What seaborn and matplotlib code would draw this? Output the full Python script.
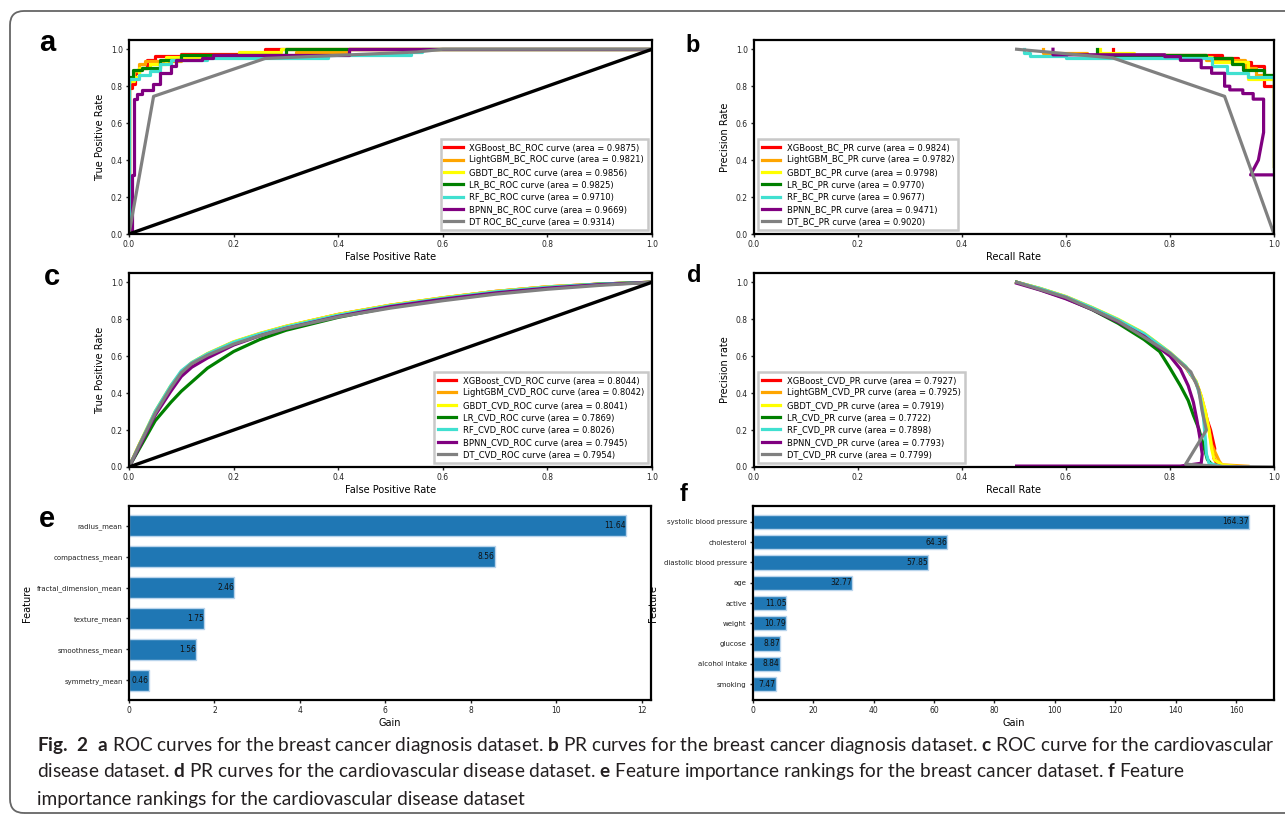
import matplotlib
matplotlib.use('Agg')
import matplotlib.pyplot as plt
import seaborn as sns
from matplotlib.patches import FancyBboxPatch
from matplotlib.transforms import IdentityTransform

# model order and colours used in every curve panel
models = ['XGBoost', 'LightGBM', 'GBDT', 'LR', 'RF', 'BPNN', 'DT']
colors = ['red', 'orange', 'yellow', 'green', 'turquoise', 'purple', 'gray']
chance_line = [0.0, 1.0]

# panel a: ROC, breast cancer
auc_a = [0.9875, 0.9821, 0.9856, 0.9825, 0.9710, 0.9669, 0.9314]
fpr_a = [
    [0, 0, 0.006, 0.006, 0.012, 0.012, 0.02, 0.02, 0.035, 0.035, 0.05, 0.05, 0.1, 0.1, 0.26, 0.26, 1.0],
    [0, 0, 0.01, 0.01, 0.02, 0.02, 0.03, 0.03, 0.1, 0.1, 0.32, 0.32, 0.42, 0.42, 1.0],
    [0, 0, 0.01, 0.01, 0.02, 0.02, 0.04, 0.04, 0.07, 0.07, 0.21, 0.21, 0.29, 0.29, 1.0],
    [0, 0, 0.008, 0.008, 0.025, 0.025, 0.06, 0.06, 0.1, 0.1, 0.3, 0.3, 1.0],
    [0, 0, 0.02, 0.02, 0.04, 0.04, 0.06, 0.06, 0.08, 0.08, 0.15, 0.15, 0.38, 0.38, 0.54, 0.54, 0.56, 0.56, 1.0],
    [0, 0.005, 0.005, 0.01, 0.01, 0.015, 0.015, 0.025, 0.025, 0.045, 0.045, 0.06, 0.06, 0.08, 0.08,
     0.09, 0.09, 0.14, 0.14, 0.16, 0.16, 0.42, 0.42, 1.0],
    [0, 0.047, 0.26, 0.55, 0.6, 1.0],
]
tpr_a = [
    [0, 0.79, 0.79, 0.81, 0.81, 0.87, 0.87, 0.9, 0.9, 0.94, 0.94, 0.965, 0.965, 0.975, 0.975, 1.0, 1.0],
    [0, 0.84, 0.84, 0.88, 0.88, 0.92, 0.92, 0.935, 0.935, 0.97, 0.97, 0.985, 0.985, 1.0, 1.0],
    [0, 0.83, 0.83, 0.85, 0.85, 0.9, 0.9, 0.92, 0.92, 0.96, 0.96, 0.985, 0.985, 1.0, 1.0],
    [0, 0.85, 0.85, 0.89, 0.89, 0.9, 0.9, 0.94, 0.94, 0.97, 0.97, 1.0, 1.0],
    [0, 0.84, 0.84, 0.86, 0.86, 0.88, 0.88, 0.92, 0.92, 0.94, 0.94, 0.955, 0.955, 0.97, 0.97, 0.985, 0.985, 1.0, 1.0],
    [0, 0, 0.32, 0.32, 0.73, 0.73, 0.76, 0.76, 0.78, 0.78, 0.81, 0.81, 0.87, 0.87, 0.91,
     0.91, 0.94, 0.94, 0.955, 0.955, 0.97, 0.97, 1.0, 1.0],
    [0, 0.745, 0.95, 0.985, 1.0, 1.0],
]

# panel b: PR, breast cancer
auc_b = [0.9824, 0.9782, 0.9798, 0.9770, 0.9677, 0.9471, 0.9020]
rec_b = [
    [0.69, 0.69, 0.9, 0.9, 0.93, 0.93, 0.955, 0.955, 0.98, 0.98, 1.0, 1.0],
    [0.555, 0.555, 0.64, 0.64, 0.87, 0.87, 0.945, 0.945, 0.965, 0.965, 1.0, 1.0],
    [0.665, 0.665, 0.73, 0.73, 0.79, 0.79, 0.88, 0.88, 0.95, 0.95, 1.0, 1.0],
    [0.66, 0.66, 0.87, 0.87, 0.92, 0.92, 0.94, 0.94, 0.98, 0.98, 1.0, 1.0],
    [0.52, 0.52, 0.53, 0.53, 0.6, 0.6, 0.88, 0.88, 0.91, 0.91, 0.95, 0.95, 1.0, 1.0],
    [0.575, 0.575, 0.79, 0.79, 0.82, 0.82, 0.86, 0.86, 0.88, 0.88, 0.905, 0.905, 0.915, 0.915,
     0.94, 0.94, 0.96, 0.96, 0.98, 0.98, 0.97, 0.955, 1.0],
    [0.505, 0.69, 0.905, 1.0],
]
prec_b = [
    [1.0, 0.97, 0.97, 0.955, 0.955, 0.93, 0.93, 0.91, 0.91, 0.8, 0.8, 0.37],
    [1.0, 0.98, 0.98, 0.97, 0.97, 0.94, 0.94, 0.9, 0.9, 0.86, 0.86, 0.37],
    [1.0, 0.98, 0.98, 0.97, 0.97, 0.96, 0.96, 0.93, 0.93, 0.84, 0.84, 0.37],
    [1.0, 0.97, 0.97, 0.95, 0.95, 0.92, 0.92, 0.89, 0.89, 0.86, 0.86, 0.34],
    [1.0, 0.98, 0.98, 0.965, 0.965, 0.955, 0.955, 0.91, 0.91, 0.87, 0.87, 0.85, 0.85, 0.37],
    [1.0, 0.97, 0.97, 0.96, 0.96, 0.94, 0.94, 0.9, 0.9, 0.87, 0.87, 0.8, 0.8, 0.78,
     0.78, 0.76, 0.76, 0.73, 0.73, 0.55, 0.4, 0.32, 0.32],
    [1.0, 0.953, 0.745, 0.0],
]

# panel c: ROC, cardiovascular disease (shared FPR grid)
auc_c = [0.8044, 0.8042, 0.8041, 0.7869, 0.8026, 0.7945, 0.7954]
fpr_c = [0, 0.02, 0.05, 0.08, 0.1, 0.12, 0.15, 0.2, 0.25, 0.3, 0.4, 0.5, 0.6, 0.7, 0.8, 0.9, 1.0]
tpr_c = [
    [0, 0.12, 0.29, 0.43, 0.51, 0.56, 0.61, 0.675, 0.72, 0.76, 0.825, 0.875, 0.915, 0.95, 0.975, 0.99, 1.0],
    [0, 0.12, 0.295, 0.435, 0.512, 0.562, 0.612, 0.676, 0.722, 0.761, 0.826, 0.876, 0.916, 0.95, 0.975, 0.99, 1.0],
    [0, 0.125, 0.3, 0.44, 0.515, 0.565, 0.614, 0.678, 0.723, 0.762, 0.826, 0.876, 0.916, 0.95, 0.975, 0.99, 1.0],
    [0, 0.1, 0.25, 0.35, 0.41, 0.46, 0.535, 0.625, 0.69, 0.74, 0.81, 0.865, 0.905, 0.94, 0.97, 0.99, 1.0],
    [0, 0.12, 0.3, 0.44, 0.52, 0.565, 0.612, 0.675, 0.72, 0.758, 0.822, 0.873, 0.913, 0.948, 0.973, 0.99, 1.0],
    [0, 0.11, 0.28, 0.41, 0.49, 0.54, 0.59, 0.66, 0.71, 0.75, 0.815, 0.868, 0.908, 0.942, 0.968, 0.987, 1.0],
    [0, 0.12, 0.29, 0.43, 0.51, 0.56, 0.605, 0.665, 0.71, 0.75, 0.812, 0.86, 0.9, 0.935, 0.962, 0.983, 1.0],
]

# panel d: PR, cardiovascular disease
auc_d = [0.7927, 0.7925, 0.7919, 0.7722, 0.7898, 0.7793, 0.7799]
rec_d = [
    [0.505, 0.55, 0.6, 0.65, 0.7, 0.75, 0.8, 0.83, 0.85, 0.86, 0.865, 0.872, 0.878, 0.882, 0.886, 0.884, 0.89, 0.9, 0.92],
    [0.505, 0.55, 0.6, 0.65, 0.7, 0.75, 0.8, 0.83, 0.85, 0.86, 0.868, 0.875, 0.88, 0.89, 0.895, 0.9, 0.95],
    [0.505, 0.55, 0.6, 0.65, 0.7, 0.75, 0.8, 0.83, 0.85, 0.86, 0.868, 0.875, 0.88, 0.885, 0.9, 0.93],
    [0.505, 0.55, 0.6, 0.65, 0.7, 0.75, 0.78, 0.8, 0.82, 0.835, 0.845, 0.855, 0.862, 0.868, 0.872, 0.88, 0.9],
    [0.505, 0.55, 0.6, 0.65, 0.7, 0.75, 0.8, 0.83, 0.85, 0.858, 0.864, 0.868, 0.87, 0.875, 0.9],
    [0.505, 0.55, 0.6, 0.65, 0.7, 0.75, 0.8, 0.82, 0.835, 0.845, 0.852, 0.858, 0.862, 0.86, 0.82, 0.505],
    [0.505, 0.6, 0.7, 0.8, 0.84, 0.855, 0.862, 0.87, 0.83, 0.9, 1.0],
]
prec_d = [
    [1.0, 0.965, 0.92, 0.86, 0.795, 0.72, 0.615, 0.54, 0.46, 0.38, 0.32, 0.25, 0.2, 0.15, 0.1, 0.05, 0.02, 0.01, 0.0],
    [1.0, 0.966, 0.921, 0.862, 0.797, 0.722, 0.617, 0.542, 0.46, 0.38, 0.3, 0.2, 0.12, 0.06, 0.03, 0.012, 0.004],
    [1.0, 0.967, 0.923, 0.864, 0.8, 0.725, 0.62, 0.545, 0.465, 0.385, 0.3, 0.2, 0.1, 0.04, 0.012, 0.002],
    [1.0, 0.96, 0.913, 0.852, 0.778, 0.69, 0.625, 0.535, 0.44, 0.36, 0.28, 0.21, 0.14, 0.08, 0.04, 0.015, 0.0],
    [1.0, 0.966, 0.921, 0.862, 0.797, 0.722, 0.618, 0.545, 0.46, 0.38, 0.28, 0.15, 0.07, 0.02, 0.002],
    [0.995, 0.958, 0.91, 0.853, 0.785, 0.708, 0.6, 0.53, 0.44, 0.35, 0.25, 0.15, 0.07, 0.02, 0.005, 0.005],
    [1.0, 0.918, 0.79, 0.615, 0.515, 0.42, 0.3, 0.2, 0.015, 0.003, 0.0],
]

# panel e / f: feature importance (gain)
features_bc = ['radius_mean', 'compactness_mean', 'fractal_dimension_mean',
               'texture_mean', 'smoothness_mean', 'symmetry_mean']
gain_bc = [11.64, 8.56, 2.46, 1.75, 1.56, 0.46]
features_cvd = ['systolic blood pressure', 'cholesterol', 'diastolic blood pressure', 'age',
                'active', 'weight', 'glucose', 'alcohol intake', 'smoking']
gain_cvd = [164.37, 64.36, 57.85, 32.77, 11.05, 10.79, 8.87, 8.84, 7.47]

caption_lines = [
    r'$\mathbf{Fig.\ 2}$  $\mathbf{a}$ ROC curves for the breast cancer diagnosis dataset. $\mathbf{b}$ PR curves for the breast cancer diagnosis dataset. $\mathbf{c}$ ROC curve for the cardiovascular',
    r'disease dataset. $\mathbf{d}$ PR curves for the cardiovascular disease dataset. $\mathbf{e}$ Feature importance rankings for the breast cancer dataset. $\mathbf{f}$ Feature',
    'importance rankings for the cardiovascular disease dataset',
]

plt.rcParams['font.family'] = ['DejaVu Sans']
plt.rcParams['mathtext.fontset'] = 'custom'
plt.rcParams['mathtext.rm'] = 'Lato'
plt.rcParams['mathtext.bf'] = 'Lato:bold'

W, H = 1285, 816
fig = plt.figure(figsize=(W / 100, H / 100), dpi=100)


def px_axes(left, top, right, bottom):
    return fig.add_axes([left / W, 1 - bottom / H, (right - left) / W, (bottom - top) / H])


def style(ax):
    for sp in ax.spines.values():
        sp.set_linewidth(1.6)
        sp.set_color('black')
    ax.tick_params(labelsize=5.5, length=2.5, width=1, pad=2, colors='#222222')


def curve_panel(ax, xs, ys, aucs, kind, ylabel, xlabel, loc, diag=False):
    for i, m in enumerate(models):
        sns.lineplot(x=xs[i] if isinstance(xs[0], list) else xs, y=ys[i], sort=False,
                     estimator=None, color=colors[i], lw=2.3, ax=ax,
                     label=f'{m}_{kind} curve (area = {aucs[i]:.4f})')
    if diag:
        sns.lineplot(x=chance_line, y=chance_line, color='black', lw=2.4, ax=ax,
                     estimator=None, sort=False)
    ax.set_xlim(0, 1)
    ax.set_ylim(0, 1.05)
    ax.set_xticks([0, 0.2, 0.4, 0.6, 0.8, 1.0])
    ax.set_yticks([0, 0.2, 0.4, 0.6, 0.8, 1.0])
    ax.set_xlabel(xlabel, fontsize=7, labelpad=2)
    ax.set_ylabel(ylabel, fontsize=7, labelpad=4)
    style(ax)
    leg = ax.legend(loc=loc, fontsize=6, fancybox=False, edgecolor='#c8c8c8', framealpha=1,
                    handlelength=2.2, labelspacing=0.4, borderpad=0.45)
    leg.get_frame().set_linewidth(1.8)
    return leg


ax_a = px_axes(129, 40, 652, 234)
leg = curve_panel(ax_a, fpr_a, tpr_a, auc_a, 'BC_ROC', 'True Positive Rate', 'False Positive Rate',
                  'lower right', diag=True)
leg.get_texts()[-1].set_text(f'DT ROC_BC_curve (area = {auc_a[-1]:.4f})')

ax_b = px_axes(754, 40, 1274, 234)
curve_panel(ax_b, rec_b, prec_b, auc_b, 'BC_PR', 'Precision Rate', 'Recall Rate', 'lower left')

ax_c = px_axes(129, 273, 652, 467)
curve_panel(ax_c, fpr_c, tpr_c, auc_c, 'CVD_ROC', 'True Positive Rate', 'False Positive Rate',
            'lower right', diag=True)

ax_d = px_axes(754, 273, 1274, 467)
curve_panel(ax_d, rec_d, prec_d, auc_d, 'CVD_PR', 'Precision rate', 'Recall Rate', 'lower left')


def bar_panel(ax, names, vals, ticks):
    sns.barplot(x=vals, y=names, orient='h', color='#1f77b4', saturation=1, width=0.7,
                edgecolor='#b9d4ec', linewidth=1, ax=ax)
    n = len(vals)
    pad = 0.05 * (n - 1 + 0.7)
    ax.set_ylim(n - 1 + 0.35 + pad, -0.35 - pad)
    ax.set_xlim(0, max(vals) * 1.05)
    ax.set_xticks(ticks)
    for i, v in enumerate(vals):
        ax.text(v, i, f'{v:.2f}', ha='right', va='center', fontsize=5.5, color='#111111')
    ax.set_xlabel('Gain', fontsize=7, labelpad=2)
    ax.set_ylabel('Feature', fontsize=7, labelpad=4)
    style(ax)
    ax.tick_params(axis='y', labelsize=5)


ax_e = px_axes(129, 506, 651, 700)
bar_panel(ax_e, features_bc, gain_bc, [0, 2, 4, 6, 8, 10, 12])

ax_f = px_axes(753, 506, 1274, 700)
bar_panel(ax_f, features_cvd, gain_cvd, [0, 20, 40, 60, 80, 100, 120, 140, 160])

# panel letters
for letter, x, y, size in [('a', 47, 43, 21), ('b', 693, 45, 17), ('c', 52, 277, 21),
                           ('d', 694, 276, 17), ('e', 47, 519, 21), ('f', 684, 495, 17)]:
    fig.text(x / W, 1 - y / H, letter, fontsize=size, fontweight='bold',
             family='Liberation Sans', ha='center', va='center')

# caption
for line, y in zip(caption_lines, [745, 772, 799]):
    fig.text(37 / W, 1 - y / H, line, fontsize=13.7, family='Lato', color='#231f20',
             ha='left', va='center')

# page frame
frame = FancyBboxPatch((10, 3), 1400, 802, boxstyle='round,pad=0,rounding_size=14',
                       fill=False, edgecolor='#666666', lw=1.3, transform=IdentityTransform())
fig.patches.append(frame)

fig.savefig('out.png', dpi=100)
